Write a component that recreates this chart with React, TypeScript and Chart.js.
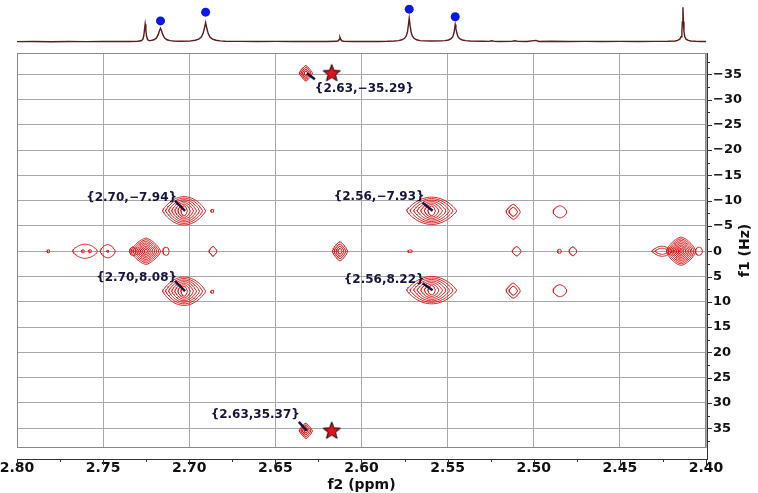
import React, { useEffect, useRef } from 'react';
import { Chart, registerables } from 'chart.js';
Chart.register(...registerables);

// ---------- 1D projection (top trace) ----------
const traceF2 = [
  2.800, 2.790, 2.780, 2.770, 2.760, 2.750, 2.745, 2.740, 2.735, 2.7300, 2.7280, 2.7270, 2.7264, 2.7260, 2.7256,
  2.7252, 2.7248, 2.7242, 2.7234, 2.7225, 2.7205, 2.7190, 2.7180, 2.7172, 2.7167, 2.7162, 2.7154, 2.7144, 2.7130,
  2.7110, 2.7090, 2.7050, 2.7000, 2.6990, 2.6965, 2.6945, 2.6930, 2.6920, 2.6912, 2.6905, 2.6898, 2.6890, 2.6880,
  2.6865, 2.6845, 2.6820, 2.6790, 2.6700, 2.6600, 2.6500, 2.6400, 2.6300, 2.6200, 2.6145, 2.6135, 2.6130, 2.6125,
  2.6120, 2.6114, 2.6105, 2.6050, 2.6000, 2.5950, 2.5900, 2.5850, 2.5810, 2.5785, 2.5765, 2.5750, 2.5740, 2.5733,
  2.5728, 2.5723, 2.5718, 2.5712, 2.5705, 2.5695, 2.5680, 2.5660, 2.5635, 2.5600, 2.5540, 2.5515, 2.5495, 2.5480,
  2.5470, 2.5463, 2.5459, 2.5456, 2.5452, 2.5447, 2.5440, 2.5430, 2.5415, 2.5395, 2.5370, 2.5300, 2.5260, 2.5244,
  2.5228, 2.5200, 2.5130, 2.5110, 2.5090, 2.5040, 2.4987, 2.4970, 2.4900, 2.4800, 2.4700, 2.4600, 2.4500, 2.4400,
  2.4300, 2.4220, 2.4180, 2.4165, 2.4152, 2.4145, 2.4140, 2.4137, 2.4134, 2.4131, 2.4128, 2.4123, 2.4116, 2.4103,
  2.4088, 2.4060, 2.4030, 2.4000,
];
const traceIntensity = [
  9.4, 9.8, 9.3, 9.9, 9.5, 10.0, 9.6, 10.1, 9.8, 10.3, 11.5, 14.5, 23, 38, 52,
  38, 23, 14.5, 12, 12, 14, 18.5, 27, 37, 42, 37, 27, 18.5, 14,
  12, 11, 10.4, 10.6, 11.3, 12.8, 15.5, 20.5, 29, 42, 56, 42, 29, 20.5,
  15.5, 12.8, 11.3, 10.5, 10.1, 9.7, 10.0, 9.6, 9.9, 9.7, 10.2, 11.5, 14.5, 20,
  14.5, 11.5, 10.3, 9.7, 10.1, 9.6, 9.9, 10.2, 10.9, 11.9, 14, 17.5, 23.5, 33,
  49, 66.5, 49, 33, 23.5, 17.5, 14, 12, 11.3, 11, 11.3, 12, 13.5, 16.5,
  21.5, 31, 42, 51.4, 42, 31, 21.5, 16.5, 13.5, 12, 11, 10.2, 10.0, 11.6,
  10.0, 9.9, 10.0, 11.4, 10.0, 9.8, 12.4, 9.9, 10.2, 9.6, 10.0, 9.7, 10.1, 9.8,
  10.0, 10.2, 11, 12.5, 15.5, 21.5, 34, 58, 93.4, 58, 34, 21.5, 15.5, 12.5,
  11, 10.2, 9.7, 9.9,
];
const dotF2 = [2.7167, 2.6905, 2.5723, 2.5456];
const dotIntensity = [60, 81.4, 88.6, 70];

// ---------- 2D J-resolved peaks (contour centres, extents, levels) ----------
const peakF2 = [2.7030, 2.7030, 2.5593, 2.5593, 2.6866, 2.6866, 2.5119, 2.5119, 2.4848, 2.4848,
  2.7252, 2.7328, 2.7135, 2.7473, 2.7473, 2.7605, 2.7617, 2.7576, 2.7818, 2.6862, 2.6125, 2.5718,
  2.5099, 2.4851, 2.4773, 2.4145, 2.4255, 2.4041, 2.6323, 2.6323];
const peakF1 = [-8.0, 7.9, -8.0, 7.7, -8.0, 8.0, -7.8, 7.8, -7.8, 7.8,
  0, 0, 0, 0, 0, 0, 0, 0, 0, 0, 0, 0,
  0, 0, 0, 0, 0, 0, -35.2, 35.5];
const peakHalfF2 = [0.0125, 0.0125, 0.0145, 0.0145, 0.0009, 0.0009, 0.0041, 0.0041, 0.0039, 0.0039,
  0.0085, 0.0018, 0.0018, 0.0044, 0.0006, 0.0072, 0.0008, 0.0008, 0.0008, 0.0023, 0.0044, 0.0012,
  0.0026, 0.0011, 0.0023, 0.0084, 0.0058, 0.0020, 0.0038, 0.0038];
const peakHalfF1 = [2.8, 2.8, 2.7, 2.7, 0.3, 0.3, 1.5, 1.5, 1.2, 1.2,
  2.6, 0.8, 0.8, 1.3, 0.2, 1.4, 0.3, 0.3, 0.3, 1.0, 1.9, 0.25,
  0.95, 0.4, 0.9, 2.8, 1.0, 0.8, 1.55, 1.55];
const peakLevels = [7, 7, 7, 7, 1, 1, 2, 2, 1, 1,
  8, 1, 1, 1, 1, 1, 1, 1, 1, 1, 4, 1,
  1, 1, 1, 9, 2, 1, 4, 4];
const peakShapeX = [2, 2, 2, 2, 2, 2, 1.3, 1.3, 1.6, 1.6,
  1.4, 2, 2, 2, 2, 1.8, 2, 2, 2, 1.2, 1.3, 4,
  1.3, 2, 1.3, 1.4, 1.8, 2, 1.2, 1.2];
const peakShapeY = [1.15, 1.15, 1.15, 1.15, 2, 2, 1.3, 1.3, 1.6, 1.6,
  1.4, 2, 2, 1.2, 2, 1.4, 2, 2, 2, 1.2, 1.3, 4,
  1.3, 2, 1.3, 1.5, 1.2, 2, 1.2, 1.2];
const peakInnerX = [0.15, 0.15, 0.15, 0.15, 1, 1, 0.6, 0.6, 1, 1,
  0.12, 1, 1, 1, 1, 1, 1, 1, 1, 1, 0.3, 1,
  1, 1, 1, 0.1, 0.7, 1, 0.3, 0.3];
const peakInnerY = [0.35, 0.35, 0.35, 0.35, 1, 1, 0.6, 0.6, 1, 1,
  0.15, 1, 1, 1, 1, 1, 1, 1, 1, 1, 0.3, 1,
  1, 1, 1, 0.12, 0.6, 1, 0.3, 0.3];

const starF2 = [2.6173, 2.6173];
const starF1 = [-35.3, 35.4];

const labelText = ['{2.63,−35.29}', '{2.70,−7.94}', '{2.56,−7.93}', '{2.70,8.08}', '{2.56,8.22}', '{2.63,35.37}'];
const labelF2 = [2.6323, 2.7030, 2.5593, 2.7030, 2.5593, 2.6323];
const labelF1 = [-35.2, -8.0, -8.0, 7.9, 7.7, 35.5];

const xTicks = [2.80, 2.75, 2.70, 2.65, 2.60, 2.55, 2.50, 2.45, 2.40];
const yTicks = [-35, -30, -25, -20, -15, -10, -5, 0, 5, 10, 15, 20, 25, 30, 35];

// label placement (pixels): [dx, dy, align, lineFrom dx, dy, lineTo dx, dy]
const labelStyle: Array<[number, number, CanvasTextAlign, number, number, number, number]> = [
  [9, 16, 'left', 1, 0, 9, 6],
  [-7, -13, 'right', -9, -10, 1, 0],
  [-7, -14, 'right', -9, -8, 1, 0],
  [-7, -13, 'right', -9, -10, 1, 0],
  [-7, -10, 'right', -9, -7, 1, 0],
  [-6, -15.5, 'right', -7, -9, 1, 0],
];

const FONT = '"DejaVu Sans", Verdana, sans-serif';

function ring(cx: number, cy: number, rx: number, ry: number, px: number, py: number) {
  const pts: { x: number; y: number }[] = [];
  const n = 72;
  for (let i = 0; i <= n; i++) {
    const t = (i / n) * Math.PI * 2;
    const c = Math.cos(t), s = Math.sin(t);
    pts.push({
      x: cx + rx * Math.sign(c) * Math.pow(Math.abs(c), 2 / px),
      y: cy + ry * Math.sign(s) * Math.pow(Math.abs(s), 2 / py),
    });
  }
  return pts;
}

function makeStar(): HTMLCanvasElement {
  const c = document.createElement('canvas');
  c.width = 22; c.height = 22;
  const g = c.getContext('2d')!;
  g.beginPath();
  for (let i = 0; i < 10; i++) {
    const r = i % 2 === 0 ? 9 : 3.8;
    const a = -Math.PI / 2 + (i * Math.PI) / 5;
    g.lineTo(11 + r * Math.cos(a), 11.8 + r * Math.sin(a));
  }
  g.closePath();
  g.fillStyle = '#e8101a';
  g.fill();
  g.strokeStyle = '#000';
  g.lineWidth = 1;
  g.stroke();
  return c;
}

export default function App() {
  const topRef = useRef<HTMLCanvasElement>(null);
  const mainRef = useRef<HTMLCanvasElement>(null);

  useEffect(() => {
    const trace = traceF2.map((x, i) => ({ x, y: traceIntensity[i] }));
    const dots = dotF2.map((x, i) => ({ x, y: dotIntensity[i] }));

    const top = new Chart(topRef.current!, {
      type: 'scatter',
      data: {
        datasets: [
          { data: dots, pointRadius: 4.5, pointBackgroundColor: '#0818e8', pointBorderWidth: 0, showLine: false, order: 0 } as any,
          { data: trace, showLine: true, pointRadius: 0, borderColor: '#5a1c1c', borderWidth: 1.4, tension: 0, order: 1 } as any,
        ],
      },
      options: {
        animation: false,
        responsive: true,
        maintainAspectRatio: false,
        events: [],
        layout: { padding: { left: 17, right: 52, top: 0, bottom: 0 } },
        plugins: { legend: { display: false }, tooltip: { enabled: false } },
        scales: {
          x: { type: 'linear', min: 2.40, max: 2.80, reverse: true, display: false },
          y: { type: 'linear', min: 0, max: 100, display: false },
        },
      },
    });

    const datasets: any[] = [];
    const star = makeStar();
    datasets.push({
      data: starF2.map((x, i) => ({ x, y: starF1[i] })),
      pointStyle: star, pointRadius: 9, showLine: false, order: 0,
    });
    for (let i = 0; i < peakF2.length; i++) {
      const L = peakLevels[i];
      for (let k = 0; k < L; k++) {
        const f = L === 1 ? 0 : k / (L - 1);
        const sx = 1 - f * (1 - peakInnerX[i]);
        const sy = 1 - f * (1 - peakInnerY[i]);
        datasets.push({
          data: ring(peakF2[i], peakF1[i], peakHalfF2[i] * sx, peakHalfF1[i] * sy, peakShapeX[i], peakShapeY[i]),
          showLine: true, pointRadius: 0, borderColor: '#de2020', borderWidth: 1, tension: 0, order: 2,
        });
      }
    }

    const decor = {
      id: 'decor',
      afterDatasetsDraw(chart: any) {
        const ctx: CanvasRenderingContext2D = chart.ctx;
        const { left, right, top: t, bottom } = chart.chartArea;
        const sx = chart.scales.x, sy = chart.scales.y;
        ctx.save();
        ctx.strokeStyle = '#8a8a8a';
        ctx.lineWidth = 1;
        ctx.strokeRect(left + 0.5, t + 0.5, right - left - 1, bottom - t - 1);
        ctx.font = `bold 12px ${FONT}`;
        ctx.fillStyle = '#15153f';
        ctx.strokeStyle = '#15153f';
        ctx.textBaseline = 'middle';
        for (let i = 0; i < labelText.length; i++) {
          const px = sx.getPixelForValue(labelF2[i]);
          const py = sy.getPixelForValue(labelF1[i]);
          const st = labelStyle[i];
          ctx.textAlign = st[2];
          ctx.fillText(labelText[i], px + st[0], py + st[1]);
          ctx.lineWidth = 2.5;
          ctx.beginPath();
          ctx.moveTo(px + st[3], py + st[4]);
          ctx.lineTo(px + st[5], py + st[6]);
          ctx.stroke();
        }
        ctx.restore();
      },
      afterDraw(chart: any) {
        const ctx: CanvasRenderingContext2D = chart.ctx;
        const { left, right, top: t, bottom } = chart.chartArea;
        const sx = chart.scales.x, sy = chart.scales.y;
        ctx.save();
        ctx.strokeStyle = '#333';
        ctx.lineWidth = 1;
        const axY = bottom + 11;
        const axX = right + 1;
        ctx.beginPath();
        ctx.moveTo(left, axY + 0.5);
        ctx.lineTo(axX + 1, axY + 0.5);
        ctx.moveTo(axX + 0.5, t);
        ctx.lineTo(axX + 0.5, axY + 1);
        for (let k = 0; k <= 16; k++) {
          const v = 2.40 + k * 0.025;
          const x = Math.round(sx.getPixelForValue(v)) + 0.5;
          ctx.moveTo(x, axY);
          ctx.lineTo(x, axY + (k % 2 === 0 ? 6 : 3));
        }
        for (let k = -15; k <= 15; k++) {
          const v = k * 2.5;
          const y = Math.round(sy.getPixelForValue(v)) + 0.5;
          ctx.moveTo(axX, y);
          ctx.lineTo(axX + (k % 2 === 0 ? 5 : 3), y);
        }
        ctx.stroke();
        ctx.fillStyle = '#111';
        ctx.font = `bold 14px ${FONT}`;
        ctx.textAlign = 'center';
        ctx.textBaseline = 'middle';
        ctx.fillText('f2 (ppm)', (left + right) / 2, 485);
        ctx.translate(745, (t + bottom) / 2);
        ctx.rotate(-Math.PI / 2);
        ctx.fillText('f1 (Hz)', 0, 0);
        ctx.restore();
      },
    };

    const main = new Chart(mainRef.current!, {
      type: 'scatter',
      data: { datasets },
      options: {
        animation: false,
        responsive: true,
        maintainAspectRatio: false,
        events: [],
        layout: { padding: { left: 17, top: 53, right: 0, bottom: 0 } },
        plugins: { legend: { display: false }, tooltip: { enabled: false } },
        scales: {
          x: {
            type: 'linear', min: 2.40, max: 2.80, reverse: true,
            afterBuildTicks: (s: any) => { s.ticks = xTicks.map((value) => ({ value })); },
            afterFit: (s: any) => { s.height = 45; s.paddingLeft = 0; s.paddingRight = 0; },
            grid: { color: '#a8a8a8', lineWidth: 1, drawTicks: false },
            border: { display: false },
            ticks: {
              autoSkip: false, maxRotation: 0, padding: 12, color: '#111',
              font: { family: FONT, weight: 'bold', size: 14 },
              callback: (v: any) => Number(v).toFixed(2),
            },
          },
          y: {
            type: 'linear', position: 'right', min: -39.2, max: 38.9, reverse: true,
            afterBuildTicks: (s: any) => { s.ticks = yTicks.map((value) => ({ value })); },
            afterFit: (s: any) => { s.width = 52; s.paddingTop = 0; s.paddingBottom = 0; },
            grid: { color: '#a8a8a8', lineWidth: 1, drawTicks: false },
            border: { display: false },
            ticks: {
              autoSkip: false, padding: 7, color: '#111',
              font: { family: FONT, weight: 'bold', size: 13 },
              callback: (v: any) => String(v).replace('-', '−'),
            },
          },
        },
      },
      plugins: [decor],
    });

    return () => { top.destroy(); main.destroy(); };
  }, []);

  return (
    <div style={{ position: 'absolute', left: 0, top: 0, width: 758, height: 493, background: '#fff' }}>
      <div style={{ position: 'absolute', left: 0, top: 0, width: 758, height: 493 }}>
        <canvas ref={mainRef} />
      </div>
      <div style={{ position: 'absolute', left: 0, top: 0, width: 758, height: 50 }}>
        <canvas ref={topRef} />
      </div>
    </div>
  );
}
